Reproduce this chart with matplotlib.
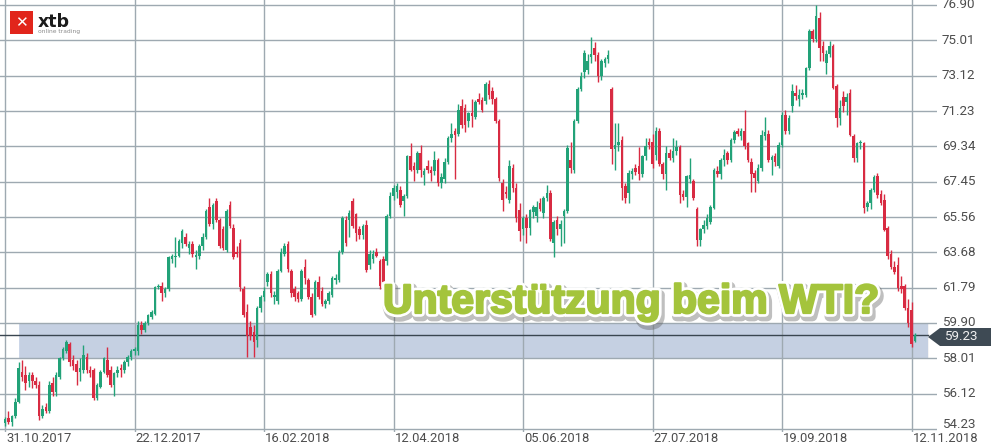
import matplotlib
matplotlib.use("Agg")
import matplotlib.pyplot as plt
import matplotlib.patheffects as pe
import matplotlib.transforms as mtransforms
from matplotlib.patches import Rectangle, Polygon
import numpy as np

# daily candles, WTI, 31.10.2017 .. 13.11.2018
opens = [
    54.55, 54.80, 54.60, 54.90, 55.70, 57.30, 57.10, 56.80, 57.10, 56.80,
    56.60, 54.90, 55.40, 55.20, 56.70, 56.20, 57.00, 58.00, 58.40, 58.80,
    57.90, 57.70, 57.30, 57.40, 58.10, 57.40, 57.40, 55.90, 56.50, 57.30,
    57.90, 57.40, 56.60, 57.20, 57.50, 57.40, 57.80, 58.10, 58.40, 58.40,
    59.80, 59.50, 59.90, 60.20, 60.40, 61.80, 61.90, 61.50, 61.70, 63.30,
    63.40, 63.50, 64.20, 64.50, 63.90, 64.10, 63.40, 63.50, 64.00, 64.50,
    66.10, 65.20, 66.40, 65.40, 64.90, 63.80, 66.20, 65.00, 63.70, 64.20,
    61.70, 60.50, 59.70, 59.40, 59.00, 60.70, 61.30, 62.10, 62.50, 61.30,
    61.10, 62.70, 63.60, 64.10, 62.70, 61.70, 61.50, 61.20, 62.90, 62.20,
    61.30, 60.40, 62.10, 61.60, 60.90, 61.05, 61.40, 62.20, 62.20, 63.70,
    65.40, 65.40, 66.40, 65.70, 64.90, 64.60, 65.15, 63.00, 63.30, 63.70,
    63.20, 63.30, 63.20, 65.60, 66.70, 66.90, 67.00, 66.40, 66.70, 68.80,
    68.30, 68.10, 69.00, 67.80, 68.30, 68.10, 68.00, 68.60, 67.40, 67.60,
    68.50, 69.80, 70.15, 70.00, 71.50, 71.40, 70.70, 71.10, 70.90, 71.90,
    71.80, 71.75, 72.65, 72.30, 71.90, 70.70, 67.40, 66.90, 66.50, 68.20,
    67.10, 65.95, 64.90, 65.50, 65.00, 65.85, 65.60, 66.30, 65.80, 66.60,
    66.85, 64.20, 65.40, 64.90, 65.60, 65.90, 68.60, 68.10, 70.70, 72.40,
    73.30, 73.40, 74.10, 74.60, 74.25, 73.10, 73.80, 74.00, 72.40, 69.20,
    69.40, 69.70, 67.20, 66.85, 67.85, 68.20, 68.30, 67.85, 68.80, 69.60,
    69.60, 68.90, 70.15, 68.40, 67.85, 69.00, 68.70, 69.10, 69.30, 66.80,
    66.65, 67.60, 67.50, 66.00, 64.35, 64.90, 65.10, 65.30, 66.05, 68.00,
    67.85, 68.60, 69.00, 68.60, 69.70, 70.15, 69.90, 70.15, 69.50, 68.50,
    67.90, 67.50, 68.20, 69.90, 70.00, 68.60, 68.80, 68.30, 69.43, 71.04,
    70.15, 71.50, 72.20, 71.90, 72.10, 72.10, 73.54, 75.50, 75.06, 76.20,
    74.70, 73.80, 74.30, 74.70, 72.56, 70.86, 72.00, 71.70, 72.20, 69.90,
    68.72, 69.50, 69.52, 66.10, 66.30, 67.00, 67.74, 66.80, 66.49, 64.97,
    63.60, 62.90, 63.00, 61.90, 61.85, 60.69, 60.60, 58.95,
]
highs = [
    54.85, 55.20, 55.00, 55.90, 57.80, 57.90, 57.60, 57.30, 57.30, 57.00,
    56.80, 55.50, 55.60, 56.80, 57.00, 57.30, 58.10, 58.60, 59.00, 58.90,
    58.20, 57.90, 58.00, 58.70, 58.30, 57.60, 57.50, 56.70, 57.40, 58.10,
    58.60, 57.60, 57.30, 57.60, 57.70, 57.90, 58.20, 58.50, 58.60, 60.00,
    60.00, 60.00, 60.40, 60.60, 61.90, 62.00, 62.10, 61.80, 63.50, 63.60,
    64.50, 64.40, 64.90, 64.70, 64.30, 64.30, 63.80, 64.10, 64.70, 66.00,
    66.60, 66.30, 66.60, 65.50, 65.10, 66.00, 66.40, 65.20, 64.00, 64.40,
    61.90, 60.90, 60.00, 59.80, 60.80, 61.40, 61.80, 62.60, 62.70, 61.60,
    62.80, 63.90, 64.20, 64.30, 62.80, 61.90, 61.60, 62.80, 63.30, 62.30,
    61.50, 62.20, 62.40, 61.80, 61.20, 61.60, 62.40, 62.50, 63.80, 65.60,
    65.60, 65.95, 66.60, 65.80, 65.10, 65.20, 65.40, 63.80, 63.80, 63.90,
    63.30, 63.50, 65.70, 66.90, 67.30, 67.40, 67.20, 66.80, 68.90, 69.50,
    68.50, 69.10, 69.40, 68.20, 68.60, 68.30, 69.10, 68.70, 67.90, 68.70,
    69.90, 70.60, 70.30, 71.60, 71.90, 71.60, 71.20, 71.90, 71.80, 72.20,
    72.00, 72.80, 72.90, 72.50, 72.00, 70.80, 67.60, 67.20, 68.60, 68.40,
    67.40, 66.30, 65.60, 65.70, 66.00, 66.20, 66.40, 66.60, 66.70, 67.30,
    67.00, 65.40, 65.60, 65.40, 66.00, 69.40, 69.60, 70.80, 72.50, 73.30,
    74.50, 74.30, 75.20, 74.90, 74.40, 74.00, 74.10, 74.50, 72.50, 70.60,
    70.60, 69.90, 67.40, 68.10, 68.20, 68.40, 69.30, 68.90, 69.80, 69.80,
    70.00, 70.40, 70.30, 68.50, 69.35, 69.20, 69.80, 69.70, 69.40, 67.00,
    67.80, 68.70, 67.60, 66.10, 65.00, 65.40, 65.70, 66.20, 68.20, 68.30,
    68.70, 69.20, 69.10, 69.80, 70.20, 70.30, 70.30, 71.30, 69.60, 68.70,
    68.10, 68.40, 70.20, 70.90, 70.20, 68.90, 69.00, 69.60, 71.20, 71.30,
    71.00, 72.70, 72.60, 72.40, 72.40, 73.60, 75.60, 75.60, 76.90, 76.50,
    75.00, 74.50, 75.00, 74.80, 72.70, 71.80, 72.30, 72.20, 72.40, 70.00,
    69.60, 69.70, 69.60, 66.40, 67.10, 67.80, 67.90, 67.00, 66.80, 65.10,
    63.80, 63.20, 63.40, 62.40, 62.00, 61.20, 61.00, 59.35,
]
lows = [
    54.40, 54.50, 54.40, 54.80, 55.60, 56.80, 56.30, 56.50, 56.40, 56.40,
    54.70, 54.80, 55.10, 55.10, 56.00, 56.00, 56.90, 57.90, 58.30, 57.60,
    57.40, 56.60, 56.80, 57.20, 57.20, 57.00, 55.80, 55.80, 56.40, 57.20,
    57.00, 56.50, 56.00, 57.00, 57.00, 57.20, 57.60, 57.90, 58.20, 58.20,
    59.30, 59.40, 59.80, 60.10, 60.30, 61.70, 61.10, 61.30, 61.60, 63.10,
    62.90, 63.40, 63.90, 64.00, 63.60, 63.40, 62.80, 63.30, 63.80, 64.40,
    65.10, 64.90, 65.30, 63.90, 63.80, 63.70, 65.00, 63.30, 63.40, 61.60,
    60.20, 58.10, 59.00, 58.10, 58.60, 60.50, 61.10, 61.90, 61.30, 60.90,
    60.90, 62.60, 63.50, 62.60, 61.30, 61.10, 61.00, 61.10, 62.00, 61.20,
    60.20, 60.30, 61.20, 60.80, 60.70, 60.90, 61.30, 62.00, 62.10, 63.60,
    64.00, 64.50, 65.00, 64.30, 64.40, 64.40, 62.60, 62.80, 63.10, 63.40,
    61.70, 61.90, 63.00, 65.50, 66.50, 66.60, 66.10, 65.60, 66.60, 68.00,
    67.50, 67.90, 67.70, 67.30, 67.90, 67.50, 67.80, 67.20, 67.10, 67.40,
    68.40, 69.60, 67.60, 69.90, 70.30, 70.10, 70.40, 70.40, 70.80, 71.60,
    71.20, 71.60, 71.90, 71.60, 70.60, 67.50, 65.90, 66.60, 66.30, 66.90,
    65.30, 64.30, 64.60, 64.20, 64.60, 65.50, 65.30, 65.90, 65.50, 66.40,
    64.30, 63.40, 64.60, 64.00, 64.20, 65.80, 67.90, 67.90, 70.60, 72.30,
    73.00, 73.20, 73.80, 73.90, 72.80, 72.90, 73.60, 73.80, 68.40, 68.10,
    69.10, 66.50, 66.30, 66.30, 67.60, 67.80, 67.55, 67.70, 68.60, 69.20,
    68.20, 68.60, 68.30, 67.60, 67.00, 68.60, 68.50, 68.90, 66.30, 66.50,
    66.10, 67.40, 66.50, 64.00, 64.00, 64.70, 64.90, 65.20, 66.00, 67.70,
    67.60, 68.30, 68.40, 68.50, 69.50, 69.90, 69.70, 69.20, 68.50, 66.90,
    66.90, 67.40, 68.00, 69.70, 68.50, 67.80, 68.30, 68.20, 69.30, 70.00,
    70.00, 71.20, 71.80, 71.50, 71.90, 72.00, 73.40, 74.90, 74.90, 73.90,
    73.90, 73.20, 74.10, 72.40, 70.40, 70.50, 71.20, 71.00, 69.90, 68.50,
    68.50, 69.20, 65.80, 65.90, 66.00, 66.90, 66.60, 66.20, 64.80, 63.30,
    62.80, 62.50, 61.60, 61.50, 60.60, 59.70, 58.60, 58.90,
]
closes = [
    54.75, 54.60, 54.90, 55.70, 57.50, 57.00, 56.70, 57.10, 56.80, 56.60,
    54.90, 55.30, 55.20, 56.60, 56.20, 57.10, 58.00, 58.50, 58.90, 57.80,
    57.60, 57.30, 57.50, 58.20, 57.40, 57.20, 55.90, 56.60, 57.30, 58.00,
    57.10, 56.60, 57.20, 57.40, 57.40, 57.80, 58.10, 58.40, 58.50, 59.80,
    59.50, 59.90, 60.30, 60.50, 61.80, 61.90, 61.50, 61.70, 63.40, 63.50,
    63.50, 64.30, 64.80, 64.10, 64.10, 63.60, 63.55, 64.00, 64.50, 65.90,
    65.20, 66.20, 65.40, 64.00, 63.90, 65.90, 65.10, 63.40, 63.60, 61.80,
    60.30, 59.20, 59.20, 58.90, 60.70, 61.30, 61.60, 62.50, 61.50, 61.40,
    62.70, 63.70, 64.00, 62.80, 61.50, 61.30, 61.20, 62.70, 62.30, 61.30,
    60.35, 62.10, 61.30, 60.90, 61.05, 61.50, 62.30, 62.30, 63.70, 65.50,
    64.20, 65.80, 65.10, 64.70, 64.60, 65.10, 62.75, 63.60, 63.60, 63.50,
    61.85, 62.10, 65.60, 66.70, 67.10, 67.20, 66.20, 66.70, 68.80, 68.10,
    68.10, 69.00, 68.10, 68.00, 68.10, 67.90, 68.60, 67.40, 67.70, 68.50,
    69.80, 70.00, 69.97, 71.30, 70.50, 70.50, 71.10, 70.95, 71.70, 71.70,
    71.30, 72.70, 72.10, 71.85, 70.70, 67.65, 66.50, 66.80, 68.30, 67.10,
    65.50, 64.80, 65.50, 65.00, 65.95, 66.10, 66.10, 66.00, 66.60, 66.85,
    64.40, 65.30, 64.90, 65.20, 65.90, 69.25, 68.20, 70.70, 72.40, 73.10,
    74.35, 73.90, 74.30, 74.25, 73.10, 73.90, 74.00, 74.25, 69.20, 69.40,
    69.60, 67.10, 66.60, 67.90, 68.00, 67.95, 67.85, 68.80, 69.35, 69.40,
    68.40, 70.15, 68.40, 67.85, 69.00, 68.70, 69.10, 69.30, 66.75, 66.65,
    67.75, 67.80, 66.60, 64.35, 64.90, 65.15, 65.50, 66.10, 68.10, 67.85,
    68.60, 68.90, 68.60, 69.70, 70.10, 70.00, 70.15, 69.35, 68.60, 67.85,
    67.65, 68.20, 69.97, 70.10, 68.63, 68.75, 68.50, 69.43, 71.04, 70.15,
    70.86, 72.30, 72.05, 72.10, 72.20, 73.54, 75.50, 75.06, 76.30, 74.60,
    74.35, 74.30, 74.70, 72.47, 70.86, 71.40, 71.50, 72.00, 69.97, 68.72,
    69.50, 69.60, 66.04, 66.30, 67.00, 67.70, 66.76, 66.30, 64.88, 63.46,
    62.90, 62.65, 61.76, 61.70, 60.69, 59.90, 58.80, 59.23,
]

date_labels = ["31.10.2017", "22.12.2017", "16.02.2018", "12.04.2018",
               "05.06.2018", "27.07.2018", "19.09.2018", "12.11.2018"]
date_bars = [0, 38, 76, 114, 152, 190, 228, 266]
price_ticks = [54.23, 56.12, 58.01, 59.90, 61.79, 63.68, 65.56, 67.45,
               69.34, 71.23, 73.12, 75.01, 76.90]
zone_low, zone_high = 58.03, 59.92
last_price = 59.23
headline = "Unterstützung beim WTI?"

W, H = 991, 447
fig = plt.figure(figsize=(W / 100, H / 100), dpi=100)
fig.patch.set_facecolor("white")
ax = fig.add_axes([0, 15 / H, 937 / W, 432 / H])

px_bar = 3.408
ax.set_xlim(-5 / px_bar, (937 - 5) / px_bar)
px_unit = 424 / (76.90 - 54.23)
ax.set_ylim(54.23 - 3 / px_unit, 76.90 + 5 / px_unit)

o = np.array(opens)
h = np.array(highs)
l = np.array(lows)
c = np.array(closes)
x = np.arange(len(o))
up = c >= o
colors = np.where(up, "#22a278", "#d82b42")

# grid
ax.set_xticks(date_bars)
ax.set_yticks(price_ticks)
ax.grid(True, color="#9ea9b1", lw=1.0, zorder=0)
ax.tick_params(length=0, labelbottom=False, labelleft=False)
for s in ax.spines.values():
    s.set_visible(False)

# support zone
ax.add_patch(Rectangle((4.3, zone_low - 0.06), 266.8, zone_high - zone_low,
                       facecolor="#a0a4aa", alpha=0.12, lw=0, zorder=1))
ax.add_patch(Rectangle((4.1, zone_low), 266.7, zone_high - zone_low,
                       facecolor="#94abd0", alpha=0.48, lw=0, zorder=1.2))

# candles
ax.vlines(x, l, h, colors=colors, lw=1.0, zorder=3)
ax.bar(x, np.maximum(np.abs(c - o), 0.06), bottom=np.minimum(o, c),
       width=0.75, color=colors, lw=0, zorder=3.1)

# current price line
ax.plot([-5 / px_bar, (928 - 5) / px_bar], [last_price, last_price],
        color="#3a4650", lw=1.0, zorder=2.5, clip_on=False)

# right axis labels
trans_y = mtransforms.blended_transform_factory(ax.transAxes, ax.transData)
for v in price_ticks:
    dy = 4 / px_unit if v == price_ticks[0] else 0
    ax.text(1 + 5 / 937, v + dy, f"{v:.2f}", transform=trans_y, ha="left",
            va="center", fontsize=9.6, family="Roboto", color="#4d4d4d",
            clip_on=False)

# bottom date labels
trans_x = mtransforms.blended_transform_factory(ax.transData, ax.transAxes)
for b, lab in zip(date_bars, date_labels):
    ax.text(b + 0.3, -6 / 432, lab, transform=trans_x, ha="left", va="center",
            fontsize=9.4, family="Roboto", color="#4d4d4d", clip_on=False)

# last price tag
y_tag = 1 - 337 / H
tag = Polygon([(928 / W, y_tag), (940 / W, 1 - 328 / H), (991 / W, 1 - 328 / H),
               (991 / W, 1 - 346 / H), (940 / W, 1 - 346 / H)],
              closed=True, transform=fig.transFigure, facecolor="#3e4a54",
              edgecolor="none", zorder=5)
fig.patches.append(tag)
fig.text(944 / W, y_tag, f"{last_price:.2f}", ha="left", va="center",
         fontsize=9.6, family="Roboto", color="#f0f0f0", zorder=6)

# headline
fig.text(383 / W, 1 - 313 / H, headline, ha="left", va="baseline",
         fontsize=29.5, fontweight="bold", family="Liberation Sans",
         color="#a4c43c", zorder=10,
         path_effects=[pe.Stroke(linewidth=7, foreground="#5f5f5f", alpha=0.4,
                                 offset=(1.5, -2.5)),
                       pe.Stroke(linewidth=5.5, foreground="white"),
                       pe.Stroke(linewidth=1.6, foreground="#a4c43c"),
                       pe.Normal()])

# logo
fig.patches.append(Rectangle((10 / W, 1 - 34 / H), 23 / W, 23 / H,
                             transform=fig.transFigure, facecolor="#e1251b",
                             edgecolor="none", zorder=5))
fig.text(21.5 / W, 1 - 22.5 / H, "✕", ha="center", va="center", fontsize=11,
         fontweight="bold", color="white", zorder=6)
fig.text(38 / W, 1 - 27 / H, "xtb", ha="left", va="baseline", fontsize=12.5,
         fontweight="bold", color="#1b1b1b", zorder=6)
fig.text(38 / W, 1 - 33.5 / H, "online trading", ha="left", va="baseline",
         fontsize=4.3, color="#8a8a8a", zorder=6)

fig.savefig("out.png", dpi=100)
